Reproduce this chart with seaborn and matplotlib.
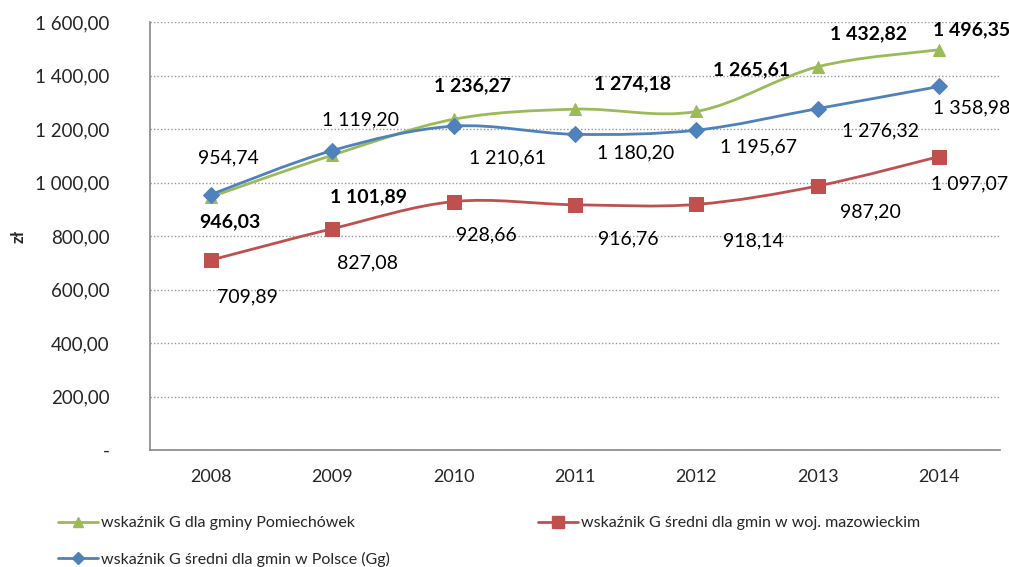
import numpy as np
import pandas as pd
import matplotlib
matplotlib.use("Agg")
import matplotlib.pyplot as plt
from matplotlib.path import Path
from matplotlib.patches import PathPatch
from matplotlib.ticker import FuncFormatter, FixedLocator
import seaborn as sns

years = ["2008", "2009", "2010", "2011", "2012", "2013", "2014"]
pomiechowek = [946.03, 1101.89, 1236.27, 1274.18, 1265.61, 1432.82, 1496.35]
mazowieckie = [709.89, 827.08, 928.66, 916.76, 918.14, 987.20, 1097.07]
polska = [954.74, 1119.20, 1210.61, 1180.20, 1195.67, 1276.32, 1358.98]

names = ["wskaźnik G dla gminy Pomiechówek",
         "wskaźnik G średni dla gmin w woj. mazowieckim",
         "wskaźnik G średni dla gmin w Polsce (Gg)"]

df = pd.DataFrame({"rok": years * 3,
                   "x": list(range(len(years))) * 3,
                   "wartosc": pomiechowek + mazowieckie + polska,
                   "seria": [n for n in names for _ in years]})

colors = {names[0]: "#9BBB59", names[1]: "#C0504D", names[2]: "#4F81BD"}
markers = {names[0]: "^", names[1]: "s", names[2]: "D"}
msizes = {names[0]: 9, names[1]: 10, names[2]: 8}

# label offsets in pixels (dx, dy downwards) from the point
offsets = {
    names[0]: [(19, 25), (36, 42), (19, -34), (58, -25), (55, -42), (51, -33), (32, -20)],
    names[1]: [(37, 37), (35, 34), (33, 33), (53, 34), (57, 36), (53, 26), (30, 27)],
    names[2]: [(18, -37), (28, -31), (54, 32), (61, 19), (62, 17), (63, 22), (32, 21)],
}

FONT = "Lato"
sns.set_style("white")
plt.rcParams["font.family"] = [FONT, "DejaVu Sans"]

fig = plt.figure(figsize=(10.09, 5.67), dpi=100)
ax = fig.add_axes([150 / 1009, 1 - 450 / 567, 850 / 1009, 428 / 567])


def fmt(v):
    return f"{v:,.2f}".replace(",", " ").replace(".", ",")


def smooth_path(xs, ys):
    pts = np.column_stack([xs, ys]).astype(float)
    n = len(pts)
    verts = [pts[0]]
    codes = [Path.MOVETO]
    for i in range(n - 1):
        p0 = pts[max(i - 1, 0)]
        p1 = pts[i]
        p2 = pts[i + 1]
        p3 = pts[min(i + 2, n - 1)]
        c1 = p1 + (p2 - p0) / 6
        c2 = p2 - (p3 - p1) / 6
        verts += [c1, c2, p2]
        codes += [Path.CURVE4] * 3
    return Path(verts, codes)


handles = []
for name in names:
    sub = df[df["seria"] == name]
    ax.add_patch(PathPatch(smooth_path(sub["x"], sub["wartosc"]), fill=False,
                           edgecolor=colors[name], lw=2.0, zorder=3))
    sns.lineplot(data=sub, x="x", y="wartosc", ax=ax, color=colors[name],
                 marker=markers[name], markersize=msizes[name], lw=0,
                 markeredgecolor=colors[name], zorder=4, legend=False)
    bold = name == names[0]
    for (xi, v), (dx, dy) in zip(zip(sub["x"], sub["wartosc"]), offsets[name]):
        ax.annotate(fmt(v), (xi, v), xytext=(dx * 0.72, -dy * 0.72),
                    textcoords="offset points", ha="center", va="center",
                    fontsize=14, fontweight="bold" if bold else "normal",
                    color="black", zorder=5)
    handles.append(plt.Line2D([], [], color=colors[name], lw=2.0,
                              marker=markers[name], markersize=msizes[name] * 0.8,
                              markeredgecolor=colors[name]))

ax.set_xlim(-0.5, len(years) - 0.5)
ax.set_ylim(0, 1600)
ax.set_yticks(np.arange(0, 1601, 200))
ax.yaxis.set_major_formatter(FuncFormatter(lambda v, p: "-" if v == 0 else fmt(v)))
ax.xaxis.set_major_locator(FixedLocator(np.arange(-0.5, len(years), 1)))
ax.xaxis.set_minor_locator(FixedLocator(np.arange(len(years))))
ax.set_xticklabels([])
ax.set_xticklabels(years, minor=True)
ax.tick_params(axis="x", which="major", length=6, color="#888888", direction="out")
ax.tick_params(axis="x", which="minor", length=0, pad=14, labelsize=13)
ax.tick_params(axis="y", length=5, color="#888888", direction="out", labelsize=13.5, pad=24)
ax.grid(axis="y", linestyle=(0, (1, 1.5)), color="#999999", lw=1)
for s in ["top", "right"]:
    ax.spines[s].set_visible(False)
for s in ["left", "bottom"]:
    ax.spines[s].set_color("#888888")
    ax.spines[s].set_linewidth(1.2)
ax.set_xlabel("")
ax.set_ylabel("zł", fontweight="bold", fontsize=12)
ax.yaxis.set_label_coords(-0.145, 0.5)

leg = fig.legend([handles[0], handles[2], handles[1]], [names[0], names[2], names[1]],
                 ncol=2, loc="upper left", bbox_to_anchor=(58 / 1009, 1 - 516 / 567),
                 frameon=False, fontsize=11.5, handlelength=2.5, handletextpad=0.2,
                 columnspacing=9.25, labelspacing=1.35, borderaxespad=0, borderpad=0)

fig.savefig("out.png", dpi=100)
